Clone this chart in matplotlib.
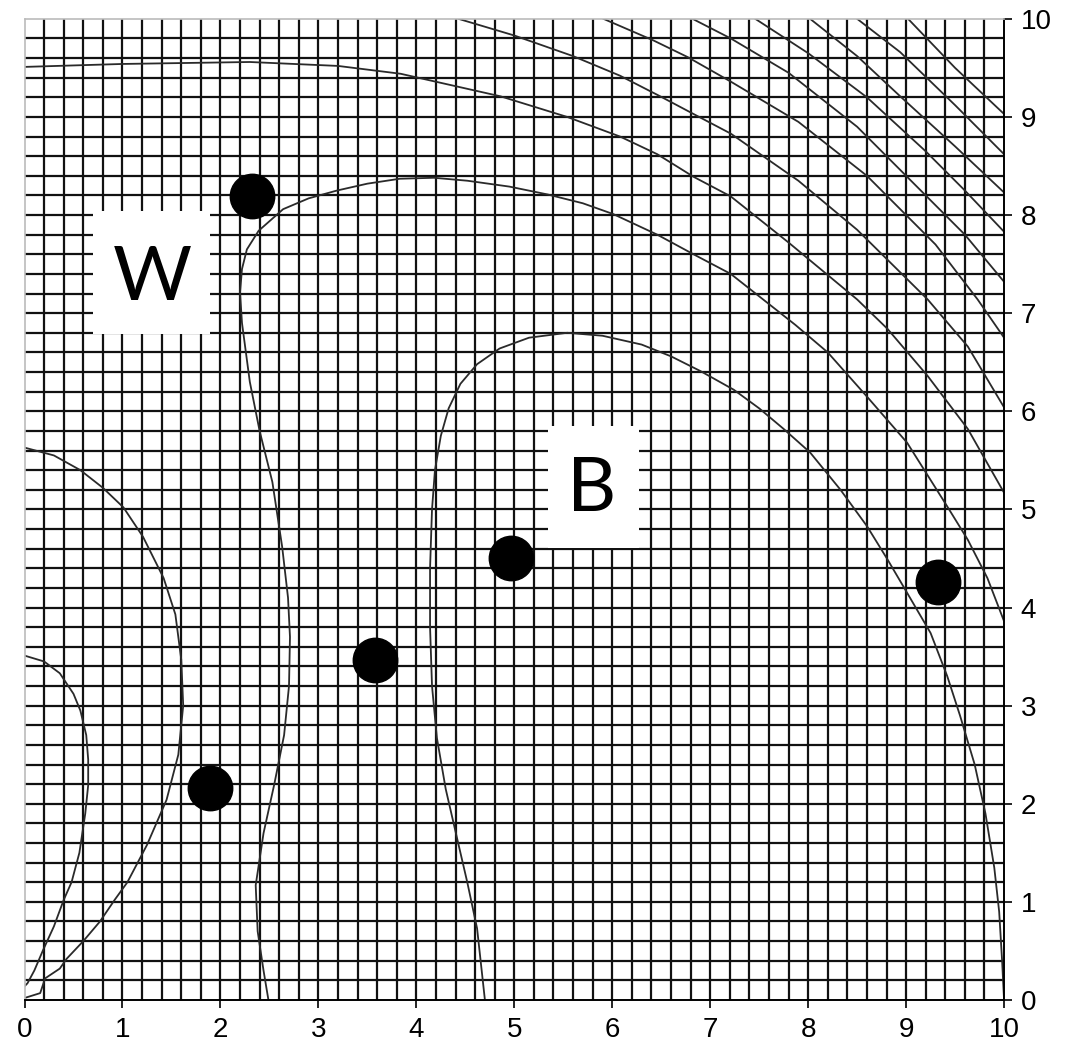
import numpy as np
import matplotlib
matplotlib.use('Agg')
import matplotlib.pyplot as plt
from matplotlib.patches import Rectangle

# curves (data units)
curve_a_x = [0.0, 1.0, 2.3, 3.2, 3.84, 4.86, 5.54, 6.08, 6.46, 6.83, 7.21, 7.8, 8.5, 8.81, 9.22, 9.63, 10.0]
curve_a_y = [9.51, 9.54, 9.56, 9.52, 9.44, 9.21, 9.0, 8.8, 8.62, 8.39, 8.19, 7.72, 7.14, 6.84, 6.36, 5.82, 5.17]

curve_b_x = [2.49, 2.44, 2.38, 2.36, 2.44, 2.55, 2.65, 2.70, 2.71, 2.69, 2.63, 2.53, 2.40, 2.30, 2.22, 2.20,
             2.22, 2.27, 2.39, 2.64, 2.90, 3.19, 3.50, 3.83, 4.18, 4.52, 4.95, 5.34, 5.70, 6.01, 6.46, 6.83,
             7.21, 7.54, 7.87, 8.20, 8.60, 9.01, 9.42, 9.63, 9.83, 10.0]
curve_b_y = [0.0, 0.3, 0.7, 1.17, 1.7, 2.2, 2.7, 3.2, 3.7, 4.1, 4.62, 5.28, 5.8, 6.3, 6.9, 7.21,
             7.45, 7.65, 7.84, 8.06, 8.17, 8.25, 8.32, 8.37, 8.38, 8.35, 8.29, 8.21, 8.12, 8.01, 7.80, 7.60,
             7.40, 7.14, 6.88, 6.60, 6.15, 5.68, 5.03, 4.69, 4.30, 3.86]

curve_c_x = [4.70, 4.62, 4.52, 4.42, 4.30, 4.21, 4.16, 4.14, 4.14, 4.16, 4.19, 4.25, 4.33, 4.45, 4.62, 4.85,
             5.15, 5.54, 5.90, 6.30, 6.60, 6.90, 7.24, 7.50, 7.75, 8.02, 8.33, 8.60, 8.81, 9.01, 9.25, 9.42,
             9.55, 9.70, 9.81, 9.90, 9.95, 9.98, 10.0]
curve_c_y = [0.0, 0.73, 1.2, 1.63, 2.15, 2.67, 3.2, 3.8, 4.4, 5.0, 5.4, 5.75, 6.03, 6.28, 6.48, 6.64,
             6.75, 6.80, 6.77, 6.68, 6.56, 6.41, 6.22, 6.03, 5.82, 5.58, 5.20, 4.83, 4.49, 4.15, 3.74, 3.30,
             2.90, 2.40, 1.90, 1.35, 0.90, 0.40, 0.0]

curve_d_x = [0.0, 0.3, 0.57, 0.8, 1.01, 1.21, 1.42, 1.54, 1.60, 1.62, 1.57, 1.45, 1.25, 1.05, 0.92, 0.77,
             0.60, 0.43, 0.36, 0.21, 0.16, 0.0]
curve_d_y = [5.63, 5.55, 5.40, 5.22, 5.02, 4.72, 4.30, 3.93, 3.47, 3.0, 2.5, 2.04, 1.58, 1.2, 1.02, 0.8,
             0.6, 0.42, 0.32, 0.22, 0.07, 0.02]

curve_e_x = [0.0, 0.2, 0.36, 0.5, 0.57, 0.63, 0.65, 0.65, 0.62, 0.56, 0.48, 0.40, 0.30, 0.19, 0.10, 0.03, 0.0]
curve_e_y = [3.51, 3.45, 3.33, 3.12, 2.95, 2.7, 2.45, 2.19, 1.9, 1.5, 1.2, 1.02, 0.75, 0.51, 0.30, 0.17, 0.14]

# outer arcs in the top right corner
arc1_x = [4.43, 5.0, 5.6, 6.08, 6.49, 6.83, 7.21, 7.9, 8.5, 9.22, 9.63, 10.0]
arc1_y = [10.0, 9.83, 9.62, 9.42, 9.21, 9.03, 8.83, 8.35, 7.85, 7.14, 6.66, 6.04]
arc2_x = [5.91, 6.42, 6.77, 7.21, 7.9, 8.6, 9.3, 9.73, 10.0]
arc2_y = [10.0, 9.78, 9.61, 9.36, 8.95, 8.40, 7.70, 7.14, 6.75]
arc3_x = [6.82, 7.21, 7.8, 8.5, 9.2, 9.6, 10.0]
arc3_y = [10.0, 9.80, 9.45, 8.90, 8.20, 7.80, 7.32]
arc4_x = [7.46, 8.0, 8.6, 9.2, 9.6, 10.0]
arc4_y = [10.0, 9.65, 9.20, 8.65, 8.25, 7.83]
arc5_x = [8.02, 8.5, 8.94, 9.5, 10.0]
arc5_y = [10.0, 9.62, 9.21, 8.70, 8.23]
arc6_x = [8.50, 8.94, 9.5, 10.0]
arc6_y = [10.0, 9.66, 9.12, 8.62]
arc7_x = [9.02, 9.5, 10.0]
arc7_y = [10.0, 9.50, 9.03]

# black dots
dot_x = [2.32, 1.89, 3.58, 4.97, 9.33]
dot_y = [8.19, 2.16, 3.47, 4.50, 4.26]

ticks = list(range(0, 11))

fig = plt.figure(figsize=(10.71, 10.46), dpi=100)
ax = fig.add_axes([0.0229, 0.044, 0.9146, 0.938])
ax.set_xlim(0, 10)
ax.set_ylim(0, 10)

# graph paper
for v in np.arange(0.2, 9.9, 0.2):
    ax.axvline(v, color='#111111', lw=1.6, zorder=1)
    ax.axhline(v, color='#111111', lw=1.6, zorder=1)

curves = [(curve_a_x, curve_a_y), (curve_b_x, curve_b_y), (curve_c_x, curve_c_y),
          (curve_d_x, curve_d_y), (curve_e_x, curve_e_y),
          (arc1_x, arc1_y), (arc2_x, arc2_y), (arc3_x, arc3_y), (arc4_x, arc4_y),
          (arc5_x, arc5_y), (arc6_x, arc6_y), (arc7_x, arc7_y)]
for cx, cy in curves:
    ax.plot(cx, cy, color='#2a2a2a', lw=1.3, zorder=2, solid_joinstyle='round')

# label boxes
ax.add_patch(Rectangle((0.70, 6.79), 1.19, 1.25, facecolor='white', edgecolor='none', zorder=3))
ax.add_patch(Rectangle((5.34, 4.61), 0.93, 1.24, facecolor='white', edgecolor='none', zorder=3))
ax.text(1.305, 7.35, 'W', fontsize=55, family='Lato', ha='center', va='center', zorder=4)
ax.text(5.79, 5.2, 'B', fontsize=55, family='Lato', ha='center', va='center', zorder=4)

ax.plot(dot_x, dot_y, 'o', ms=32, color='black', zorder=5, clip_on=False)

ax.yaxis.tick_right()
ax.set_xticks(ticks)
ax.set_yticks(ticks)
ax.tick_params(direction='out', length=6, width=1.2, labelsize=20, pad=6)
for lab in ax.get_xticklabels() + ax.get_yticklabels():
    lab.set_family('Liberation Sans')

for side in ['top', 'left']:
    ax.spines[side].set_color('#bbbbbb')
    ax.spines[side].set_linewidth(1.2)
for side in ['bottom', 'right']:
    ax.spines[side].set_color('black')
    ax.spines[side].set_linewidth(1.4)

plt.savefig('out.png', dpi=100)
